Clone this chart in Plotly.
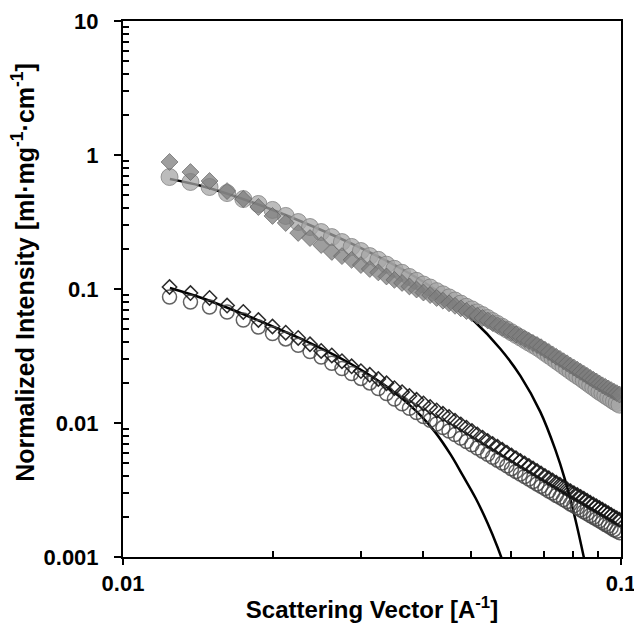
import plotly.graph_objects as go

# Scattering vector q [1/A] (shared by all four measured series)
q = [0.0124, 0.01366, 0.01492, 0.01618, 0.01744, 0.0187, 0.01996, 0.02122, 0.02248, 0.02374,
     0.025, 0.02626, 0.02752, 0.02878, 0.03004, 0.0313, 0.03256, 0.03382, 0.03508, 0.03634,
     0.0376, 0.03886, 0.04012, 0.04138, 0.04264, 0.0439, 0.04516, 0.04642, 0.04768, 0.04894,
     0.0502, 0.05146, 0.05272, 0.05398, 0.05524, 0.0565, 0.05776, 0.05902, 0.06028, 0.06154,
     0.0628, 0.06406, 0.06532, 0.06658, 0.06784, 0.0691, 0.07036, 0.07162, 0.07288, 0.07414,
     0.0754, 0.07666, 0.07792, 0.07918, 0.08044, 0.0817, 0.08296, 0.08422, 0.08548, 0.08674,
     0.088, 0.08926, 0.09052, 0.09178, 0.09304, 0.0943, 0.09556, 0.09682, 0.09808, 0.09934]

# Upper pair (filled grey symbols)
upper_diamonds = [0.887, 0.746, 0.640, 0.538, 0.469, 0.409, 0.351, 0.311, 0.262, 0.240,
                  0.213, 0.189, 0.176, 0.165, 0.151, 0.141, 0.133, 0.124, 0.117, 0.111,
                  0.1045, 0.0991, 0.0941, 0.0901, 0.0857, 0.0818, 0.0782, 0.0749, 0.0717, 0.0685,
                  0.0660, 0.0632, 0.0608, 0.0583, 0.0558, 0.0536, 0.0515, 0.0494, 0.0475, 0.0457,
                  0.0441, 0.0424, 0.0409, 0.0395, 0.0382, 0.0368, 0.0352, 0.0339, 0.0325, 0.0312,
                  0.0301, 0.0289, 0.0279, 0.0268, 0.0259, 0.0250, 0.0241, 0.0233, 0.0225, 0.0217,
                  0.0210, 0.0204, 0.0197, 0.0191, 0.0186, 0.0181, 0.0176, 0.0171, 0.0167, 0.0163]
upper_circles = [0.685, 0.629, 0.577, 0.520, 0.469, 0.431, 0.389, 0.351, 0.316, 0.290,
                 0.266, 0.244, 0.224, 0.206, 0.192, 0.176, 0.165, 0.152, 0.1415, 0.132,
                 0.123, 0.115, 0.108, 0.1026, 0.0964, 0.0913, 0.0866, 0.0821, 0.0778, 0.0737,
                 0.0705, 0.0669, 0.0639, 0.0607, 0.0576, 0.0548, 0.0522, 0.0498, 0.0475, 0.0454,
                 0.0435, 0.0416, 0.0398, 0.0382, 0.0367, 0.0351, 0.0334, 0.0319, 0.0305, 0.0291,
                 0.0279, 0.0266, 0.0255, 0.0244, 0.0234, 0.0225, 0.0217, 0.0208, 0.0200, 0.0192,
                 0.0185, 0.0178, 0.0171, 0.0166, 0.0160, 0.0155, 0.0150, 0.0145, 0.0141, 0.0137]

# Lower pair (open symbols)
lower_diamonds = [0.1035, 0.0933, 0.0857, 0.0753, 0.0674, 0.0587, 0.0525, 0.0472, 0.0431, 0.0387,
                  0.0345, 0.0319, 0.0289, 0.0265, 0.0244, 0.0229, 0.0213, 0.0198, 0.0182, 0.0170,
                  0.0159, 0.0149, 0.0140, 0.01316, 0.01240, 0.01172, 0.01107, 0.01040, 0.00977, 0.00923,
                  0.00871, 0.00821, 0.00778, 0.00736, 0.00698, 0.00664, 0.00631, 0.00600, 0.00572, 0.00546,
                  0.00520, 0.00498, 0.00477, 0.00457, 0.00438, 0.00420, 0.00403, 0.00387, 0.00373, 0.00358,
                  0.00346, 0.00333, 0.00321, 0.00310, 0.00299, 0.00290, 0.00281, 0.00272, 0.00263, 0.00254,
                  0.00247, 0.00239, 0.00232, 0.00225, 0.00219, 0.00212, 0.00206, 0.00200, 0.00195, 0.00190]
lower_circles = [0.0872, 0.0800, 0.0734, 0.0674, 0.0587, 0.0520, 0.0465, 0.0424, 0.0380, 0.0341,
                 0.0311, 0.0279, 0.0255, 0.0234, 0.0215, 0.0199, 0.0181, 0.0166, 0.0151, 0.0139,
                 0.01289, 0.01198, 0.01119, 0.01047, 0.00983, 0.00924, 0.00871, 0.00819, 0.00771, 0.00728,
                 0.00688, 0.00650, 0.00616, 0.00584, 0.00555, 0.00528, 0.00502, 0.00479, 0.00456, 0.00435,
                 0.00416, 0.00399, 0.00382, 0.00366, 0.00351, 0.00337, 0.00324, 0.00311, 0.00300, 0.00288,
                 0.00279, 0.00268, 0.00259, 0.00249, 0.00241, 0.00233, 0.00225, 0.00218, 0.00211, 0.00204,
                 0.00198, 0.00192, 0.00186, 0.00181, 0.00175, 0.00170, 0.00165, 0.00160, 0.00156, 0.00152]

# Model fit curves
fit_upper_q = [0.01242, 0.01439, 0.01811, 0.0228, 0.02871, 0.03614, 0.04345, 0.05035, 0.05728,
               0.06281, 0.06887, 0.07379, 0.07727, 0.08091, 0.08472, 0.0867]
fit_upper_i = [0.662, 0.587, 0.446, 0.319, 0.2186, 0.1422, 0.0929, 0.0592, 0.0357,
               0.02246, 0.0121, 0.00635, 0.00373, 0.00194, 0.000896, 0.000583]
fit_lower_q = [0.01242, 0.01439, 0.01811, 0.0228, 0.02871, 0.03296, 0.03614, 0.03963, 0.04246,
               0.0455, 0.04808, 0.05105, 0.05395, 0.05649, 0.05916]
fit_lower_i = [0.1017, 0.0857, 0.0613, 0.0424, 0.02756, 0.02002, 0.01547, 0.01135, 0.00844,
               0.0058, 0.00408, 0.002754, 0.001795, 0.001188, 0.000734]

y_tickvals = [0.001, 0.01, 0.1, 1, 10]
y_ticktext = ["0.001", "0.01", "0.1", "1", "10"]
x_tickvals = [0.01, 0.1]
x_ticktext = ["0.01", "0.1"]

FONT = "Liberation Sans, Arial, sans-serif"

fig = go.Figure()

fig.add_trace(go.Scatter(x=fit_upper_q, y=fit_upper_i, mode="lines", line_shape="spline",
                         line=dict(color="black", width=2.5), showlegend=False))
fig.add_trace(go.Scatter(x=fit_lower_q, y=fit_lower_i, mode="lines", line_shape="spline",
                         line=dict(color="black", width=2.5), showlegend=False))

fig.add_trace(go.Scatter(x=q, y=upper_circles, mode="markers", showlegend=False,
                         marker=dict(symbol="circle", size=17, color="rgba(165,165,165,0.75)",
                                     line=dict(color="rgba(125,125,125,0.75)", width=1))))
fig.add_trace(go.Scatter(x=q, y=upper_diamonds, mode="markers", showlegend=False,
                         marker=dict(symbol="diamond", size=13, color="rgba(125,125,125,0.75)",
                                     line=dict(color="rgba(100,100,100,0.7)", width=1))))
fig.add_trace(go.Scatter(x=q, y=lower_circles, mode="markers", showlegend=False,
                         marker=dict(symbol="circle-open", size=14, color="rgba(70,70,70,0.85)",
                                     line=dict(width=1.5))))
fig.add_trace(go.Scatter(x=q, y=lower_diamonds, mode="markers", showlegend=False,
                         marker=dict(symbol="diamond-open", size=11, color="rgba(20,20,20,0.9)",
                                     line=dict(width=1.5))))

y_minor = [m * 10 ** e for e in (-3, -2, -1, 0) for m in range(2, 10)]
x_minor = [m * 0.01 for m in range(2, 10)]

fig.update_xaxes(type="log", range=[-2.00005, -0.99995], showline=True, linecolor="black", linewidth=2,
                 mirror=True, showgrid=False, zeroline=False,
                 tickmode="array", tickvals=x_tickvals, ticktext=x_ticktext,
                 ticks="outside", ticklen=6, tickwidth=1.5, tickcolor="black",
                 ticklabelstandoff=0, ticklabeloverflow="allow",
                 tickfont=dict(family=FONT, size=22, color="black", weight="bold"),
                 minor=dict(tickmode="array", tickvals=x_minor, ticks="inside", ticklen=6,
                            tickwidth=1.5, tickcolor="black", showgrid=False),
                 title=dict(text="Scattering Vector [A<sup>-1</sup>]", standoff=6,
                            font=dict(family=FONT, size=24, color="black", weight="bold")))
fig.update_yaxes(type="log", range=[-3, 1], showline=True, linecolor="black", linewidth=2,
                 mirror=True, showgrid=False, zeroline=False,
                 tickmode="array", tickvals=y_tickvals, ticktext=y_ticktext,
                 ticks="outside", ticklen=7, tickwidth=1.5, tickcolor="black",
                 ticklabelstandoff=11, ticklabeloverflow="allow",
                 tickfont=dict(family=FONT, size=22, color="black", weight="bold"),
                 minor=dict(tickmode="array", tickvals=y_minor, ticks="inside", ticklen=6,
                            tickwidth=1.5, tickcolor="black", showgrid=False))

fig.add_annotation(text="Normalized Intensity [ml·mg<sup>-1</sup>·cm<sup>-1</sup>]",
                   xref="paper", yref="paper", x=-0.201, y=0.532, textangle=-90,
                   xanchor="center", yanchor="middle", showarrow=False,
                   font=dict(family=FONT, size=25, color="black", weight="bold"))

fig.update_layout(width=634, height=624, plot_bgcolor="white", paper_bgcolor="white",
                  margin=dict(l=123, r=13, t=21, b=67, autoexpand=False),
                  font=dict(family=FONT, color="black"))

fig.write_html("out.html", config={"displayModeBar": False},
               post_script="document.body.style.margin='0px';")
